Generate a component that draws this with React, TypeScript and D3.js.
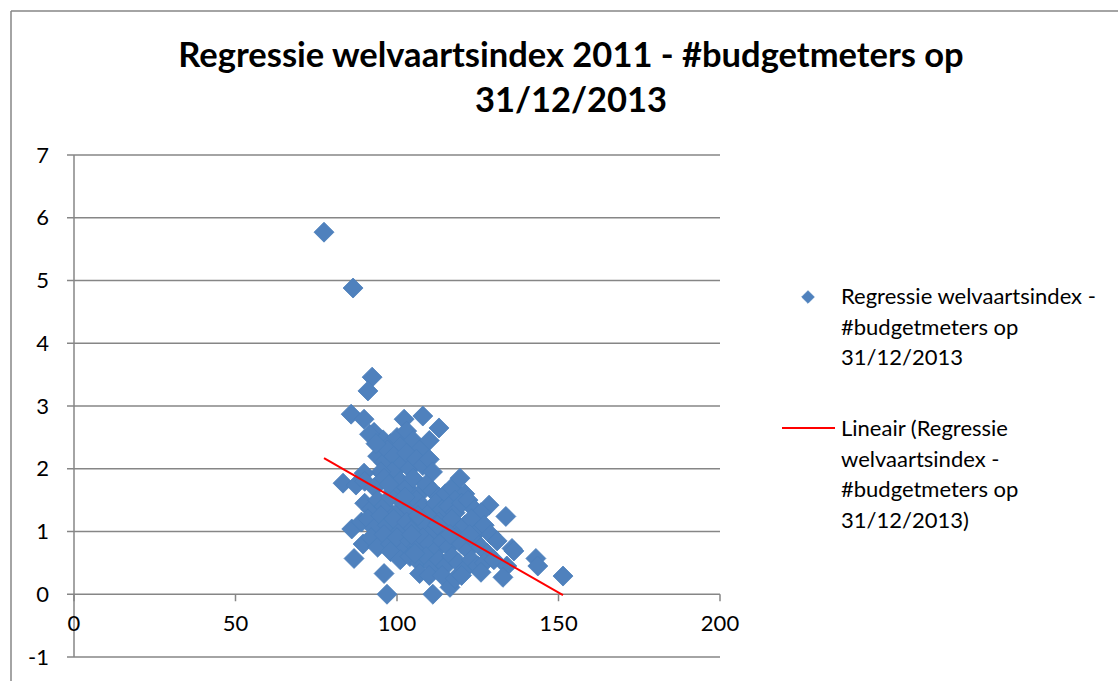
import React from "react";
import * as d3 from "d3";

// Scatter values: [welvaartsindex, #budgetmeters]
const xValues: number[] = [
  77.4, 86.4, 92.3, 91, 85.8, 89.8,
  92.9, 95.7, 98, 100, 102.2, 103, 105, 108, 110, 113, 107, 101,
  94, 96, 97, 99, 101, 103, 104, 106, 108, 110, 111, 98.5, 95, 89.8,
  83.3, 87.3, 90, 93, 96, 99, 101, 103, 105, 107, 109, 111, 113, 115, 117, 119.5, 121, 118,
  90, 92, 94, 96, 98, 100, 102, 104, 106, 108, 110, 112, 114, 116, 118, 120, 122, 124, 128.5, 126,
  86, 89, 91, 93, 95, 97, 99, 101, 103, 105, 107, 109, 111, 113, 115, 117, 119, 121, 123, 125, 127, 133.7, 129,
  89.5, 92, 94, 96, 98, 100, 102, 104, 106, 108, 110, 112, 114, 116, 118, 120, 122, 124, 126, 131, 128, 135.6, 136.2,
  86.7, 98, 101, 104, 107, 109, 111, 113, 115, 117, 119, 121, 123, 125, 127, 130, 134, 143, 143.6,
  96, 107, 110, 114, 116.4, 118, 120, 126, 132.8, 151.4, 96.9, 111.1,
  91.5, 93.5, 97.5, 102.5, 106.5, 104.5, 112.5, 116.5, 122.5, 105.5,
];
const yValues: number[] = [
  5.77, 4.88, 3.46, 3.24, 2.87, 2.79,
  2.58, 2.46, 2.4, 2.5, 2.79, 2.6, 2.45, 2.84, 2.45, 2.65, 2.3, 2.35,
  2.2, 2.1, 2.3, 2.2, 2.05, 2.25, 2.0, 2.15, 2.05, 2.15, 1.95, 1.95, 1.95, 1.93,
  1.77, 1.74, 1.8, 1.7, 1.85, 1.65, 1.8, 1.7, 1.85, 1.6, 1.75, 1.65, 1.55, 1.6, 1.7, 1.85, 1.6, 1.5,
  1.45, 1.35, 1.5, 1.4, 1.55, 1.3, 1.45, 1.35, 1.5, 1.4, 1.3, 1.45, 1.35, 1.4, 1.3, 1.45, 1.5, 1.35, 1.42, 1.3,
  1.04, 1.15, 1.2, 1.05, 1.25, 1.1, 1.2, 1.0, 1.15, 1.05, 1.2, 1.1, 1.0, 1.15, 1.05, 1.2, 1.0, 1.1, 1.2, 1.0, 1.1, 1.24, 0.95,
  0.8, 0.9, 0.75, 0.95, 0.8, 0.9, 0.7, 0.85, 0.75, 0.9, 0.8, 0.7, 0.85, 0.75, 0.9, 0.8, 0.7, 0.85, 0.75, 0.85, 0.65, 0.73, 0.69,
  0.57, 0.68, 0.55, 0.6, 0.5, 0.6, 0.45, 0.55, 0.45, 0.6, 0.5, 0.4, 0.55, 0.45, 0.5, 0.55, 0.45, 0.57, 0.45,
  0.33, 0.33, 0.3, 0.3, 0.11, 0.25, 0.3, 0.35, 0.27, 0.29, 0.0, 0.0,
  2.55, 2.4, 1.75, 1.55, 1.25, 0.95, 1.1, 0.95, 0.95, 0.65,
];

// Linear trendline coefficients (y = intercept + slope * x)
const trendIntercept = 4.453;
const trendSlope = -0.0295;

const xTicks: number[] = [0, 50, 100, 150, 200];
const yTicks: number[] = [-1, 0, 1, 2, 3, 4, 5, 6, 7];

const titleLines: string[] = [
  "Regressie welvaartsindex 2011 - #budgetmeters op",
  "31/12/2013",
];
const legendScatter: string[] = [
  "Regressie welvaartsindex -",
  "#budgetmeters op",
  "31/12/2013",
];
const legendTrend: string[] = [
  "Lineair (Regressie",
  "welvaartsindex -",
  "#budgetmeters op",
  "31/12/2013)",
];

const FONT = "Lato, 'Open Sans', sans-serif";
const GRID = "#868686";
const BLUE = "#4F81BD";

export default function App() {
  const W = 1118;
  const H = 681;
  const x = d3.scaleLinear().domain([0, 200]).range([74, 720]);
  const y = d3.scaleLinear().domain([-1, 7]).range([657, 155]);

  const points = xValues.map((v, i) => [v, yValues[i]] as [number, number]);
  const diamond = d3.symbol().type(d3.symbolSquare).size(200)();
  const legendDiamond = d3.symbol().type(d3.symbolSquare).size(80)();

  const xMin = d3.min(xValues) as number;
  const xMax = d3.max(xValues) as number;
  const line = d3
    .line<number>()
    .x((d) => x(d))
    .y((d) => y(trendIntercept + trendSlope * d));

  return (
    <svg
      width={W}
      height={H}
      style={{ position: "absolute", left: 0, top: 0, background: "#fff" }}
      fontFamily={FONT}
    >
      {/* outer border */}
      <line x1={11} y1={11} x2={W} y2={11} stroke={GRID} strokeWidth={1.5} />
      <line x1={11} y1={11} x2={11} y2={H} stroke={GRID} strokeWidth={1.5} />

      {/* title */}
      {titleLines.map((t, i) => (
        <text
          key={t}
          x={571}
          y={67 + i * 45}
          textAnchor="middle"
          fontSize={34.5}
          fontWeight="bold"
          fill="#000"
        >
          {t}
        </text>
      ))}

      {/* gridlines */}
      {yTicks.map((t) => (
        <line
          key={"g" + t}
          x1={67}
          x2={720}
          y1={y(t)}
          y2={y(t)}
          stroke={GRID}
          strokeWidth={1.5}
        />
      ))}
      {/* y axis */}
      <line x1={x(0)} x2={x(0)} y1={y(7)} y2={y(-1)} stroke={GRID} strokeWidth={1.5} />
      {yTicks.map((t) => (
        <text
          key={"yl" + t}
          x={49}
          y={y(t)}
          dy="0.35em"
          textAnchor="end"
          fontSize={22}
          fill="#000"
        >
          {t}
        </text>
      ))}
      {/* x axis ticks at y = 0 */}
      {xTicks.map((t) => (
        <line
          key={"xt" + t}
          x1={x(t)}
          x2={x(t)}
          y1={y(0)}
          y2={y(0) + 7}
          stroke={GRID}
          strokeWidth={1.5}
        />
      ))}
      {xTicks.map((t) => (
        <text
          key={"xl" + t}
          x={x(t)}
          y={y(0) + 37}
          textAnchor="middle"
          fontSize={22}
          fill="#000"
        >
          {t}
        </text>
      ))}

      {/* points */}
      {points.map((p, i) => (
        <path
          key={"p" + i}
          d={diamond as string}
          transform={`translate(${x(p[0])},${y(p[1])}) rotate(45)`}
          fill={BLUE}
          stroke="#4A7EBB"
          strokeWidth={0.75}
        />
      ))}

      {/* trendline */}
      <path d={line([xMin, xMax]) as string} stroke="#FF0000" strokeWidth={2} fill="none" />

      {/* legend */}
      <path
        d={legendDiamond as string}
        transform="translate(808,297) rotate(45)"
        fill={BLUE}
        stroke="#4A7EBB"
        strokeWidth={0.75}
      />
      {legendScatter.map((t, i) => (
        <text key={"ls" + i} x={841} y={304 + i * 30.5} fontSize={22} fill="#000">
          {t}
        </text>
      ))}
      <line x1={782} x2={835} y1={428} y2={428} stroke="#FF0000" strokeWidth={2} />
      {legendTrend.map((t, i) => (
        <text key={"lt" + i} x={841} y={436 + i * 30.5} fontSize={22} fill="#000">
          {t}
        </text>
      ))}
    </svg>
  );
}
